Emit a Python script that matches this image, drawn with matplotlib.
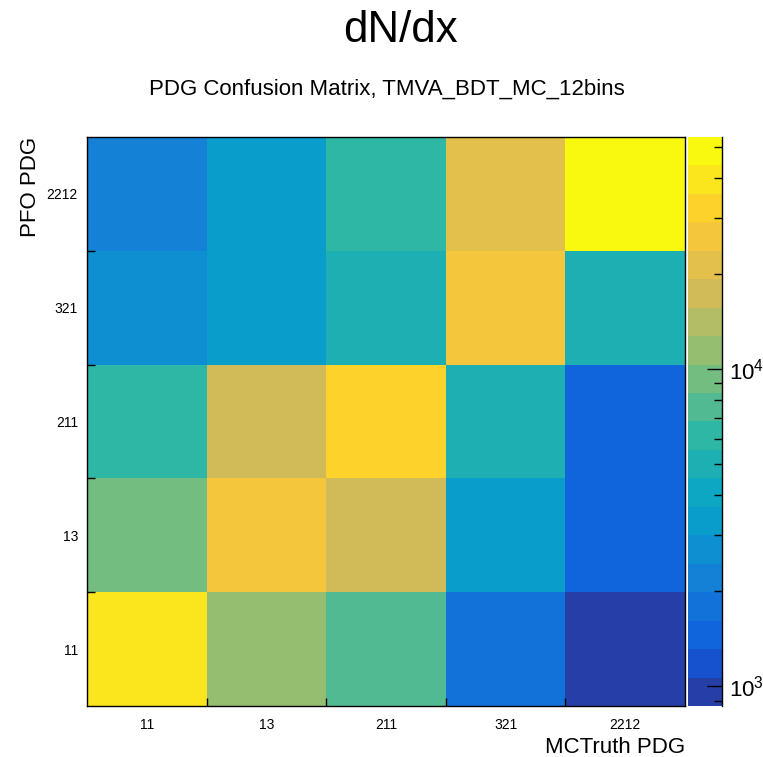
import numpy as np
import matplotlib
matplotlib.use("Agg")
import matplotlib.pyplot as plt
from matplotlib.colors import ListedColormap, BoundaryNorm

plt.rcParams['font.family'] = ['Liberation Sans', 'DejaVu Sans']
plt.rcParams['mathtext.fontset'] = 'custom'
plt.rcParams['mathtext.rm'] = 'Liberation Sans'
plt.rcParams['mathtext.it'] = 'Liberation Sans:italic'

# ---- data ----
truth_labels = ["11", "13", "211", "321", "2212"]   # x (MCTruth PDG)
pfo_labels = ["11", "13", "211", "321", "2212"]     # y (PFO PDG), bottom to top
row_11 = [39500, 11400, 7600, 1780, 865]
row_13 = [9300, 26100, 17300, 3300, 1430]
row_211 = [6150, 17200, 32100, 5000, 1470]
row_321 = [2690, 3320, 5020, 26200, 5010]
row_2212 = [2190, 3300, 6160, 21300, 53900]
title = "dN/dx"
subtitle = "PDG Confusion Matrix, TMVA_BDT_MC_12bins"
xlabel = "MCTruth PDG"
ylabel = "PFO PDG"

Z = np.array([row_11, row_13, row_211, row_321, row_2212], dtype=float)

# ---- ROOT kBird palette, 20 contour levels ----
stops = np.array([0.0, 0.125, 0.25, 0.375, 0.5, 0.625, 0.75, 0.875, 1.0])
red = [0.2082, 0.0592, 0.0780, 0.0232, 0.1802, 0.5301, 0.8186, 0.9956, 0.9764]
green = [0.1664, 0.3599, 0.5041, 0.6419, 0.7178, 0.7492, 0.7328, 0.7862, 0.9832]
blue = [0.5293, 0.8684, 0.8385, 0.7914, 0.6425, 0.4662, 0.3499, 0.1968, 0.0539]
ncol = 255
pal = []
for g in range(1, len(stops)):
    n = int(np.floor(ncol * stops[g]) - np.floor(ncol * stops[g - 1]))
    for c in range(n):
        f = c / n
        pal.append((red[g - 1] + f * (red[g] - red[g - 1]),
                    green[g - 1] + f * (green[g] - green[g - 1]),
                    blue[g - 1] + f * (blue[g] - blue[g - 1])))
ndiv = 20
band_colors = [pal[min(int((i + 0.99) * ncol / ndiv), len(pal) - 1)] for i in range(ndiv)]
cmap = ListedColormap(band_colors)
zmin, zmax = Z.min(), Z.max()
levels = np.logspace(np.log10(zmin), np.log10(zmax), ndiv + 1)
levels[0] *= 0.999
levels[-1] *= 1.001
norm = BoundaryNorm(levels, ndiv)

fig = plt.figure(figsize=(7.63, 7.57), dpi=100)
W, H = 763, 757
ax = fig.add_axes([87 / W, 1 - 706 / H, (685 - 87) / W, (706 - 137) / H])
ax.pcolormesh(np.arange(6), np.arange(6), Z, cmap=cmap, norm=norm,
              edgecolors='none', antialiased=False)
ax.set_xlim(0, 5)
ax.set_ylim(0, 5)
for s in ax.spines.values():
    s.set_linewidth(1.0)
    s.set_color('black')
ax.set_xticks(np.arange(1, 5))
ax.set_yticks(np.arange(1, 5))
ax.set_xticklabels([])
ax.set_yticklabels([])
ax.tick_params(which='major', direction='in', length=6, width=1, top=False, right=False)
ax.set_xticks(np.arange(5) + 0.5, minor=True)
ax.set_yticks(np.arange(5) + 0.5, minor=True)
ax.set_xticklabels(truth_labels, minor=True, fontsize=10)
ax.set_yticklabels(pfo_labels, minor=True, fontsize=10)
ax.tick_params(axis='x', which='minor', length=0, pad=8.5)
ax.tick_params(axis='y', which='minor', length=0, pad=6.5)

fig.text(400.5 / W, 1 - 41.7 / H, title, ha='center', va='baseline', fontsize=31.5)
fig.text(386.5 / W, 1 - 95 / H, subtitle, ha='center', va='baseline', fontsize=16)
fig.text(685 / W, 1 - 753 / H, xlabel, ha='right', va='baseline', fontsize=16)
fig.text(31 / W, 1 - 137 / H, ylabel, ha='center', va='top', rotation=90, fontsize=16)

# ---- colour bar ----
cax = fig.add_axes([688 / W, 1 - 706 / H, (722 - 688) / W, (706 - 137) / H])
cax.set_yscale('log')
cax.pcolormesh([0, 1], levels, np.arange(ndiv).reshape(-1, 1),
               cmap=cmap, vmin=-0.5, vmax=ndiv - 0.5,
               edgecolors='none', antialiased=False)
cax.set_ylim(zmin, zmax)
cax.set_xlim(0, 1)
cax.set_xticks([])
for k in ['left', 'top', 'bottom']:
    cax.spines[k].set_visible(False)
cax.spines['right'].set_linewidth(1.0)
cax.yaxis.set_ticks_position('right')
cax.set_yticks([1e3, 1e4])
cax.set_yticklabels([r'$\mathregular{10^{3}}$', r'$\mathregular{10^{4}}$'], fontsize=16)
minor = [m * 10 ** e for e in (2, 3, 4) for m in range(2, 10)]
minor = [v for v in minor if zmin <= v <= zmax]
cax.set_yticks(minor, minor=True)
cax.set_yticklabels([], minor=True)
cax.tick_params(which='major', direction='in', length=11, width=1, pad=5)
cax.tick_params(which='minor', direction='in', length=6, width=1)

fig.savefig('out.png', dpi=100)
